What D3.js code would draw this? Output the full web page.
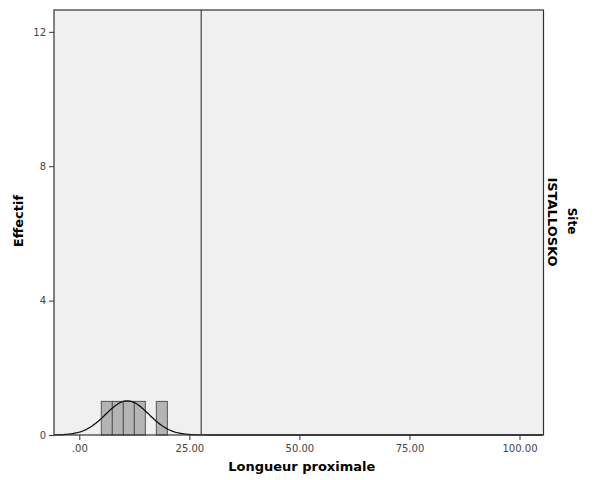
<!DOCTYPE html>
<html><head><meta charset="utf-8">
<script src="https://cdn.jsdelivr.net/npm/d3@7"></script>
<style>body{margin:0;background:#fff}</style>
</head><body>
<svg id="c" width="596" height="480"></svg>
<script>
const binStarts = [5, 7.5, 10, 12.5, 17.5];
const binCounts = [1, 1, 1, 1, 1];
const binWidth = 2.5;
const xTicks = [0, 25, 50, 75, 100];
const yTicks = [0, 4, 8, 12];
const refLine = 27.7;
const fitMean = 10.9, fitSd = 4.9, fitN = 5;
const xTitle = "Longueur proximale", yTitle = "Effectif";
const panelTitle = "Site", panelLabel = "ISTALLOSKO";

const svg = d3.select("#c");
const L = 54, R = 543.5, T = 10, B = 435;
const x = d3.scaleLinear().domain([-5.75, 105.45]).range([L, R]);
const y = d3.scaleLinear().domain([0, 12.65]).range([B, T]);
const font = "'DejaVu Sans', Verdana, sans-serif";

svg.append("rect").attr("x", L).attr("y", T).attr("width", R - L).attr("height", B - T)
  .attr("fill", "#f0f0f0");

const g = svg.append("g");
g.selectAll("rect.bar").data(binStarts).enter().append("rect").attr("class","bar")
  .attr("x", d => x(d)).attr("width", d => x(d + binWidth) - x(d))
  .attr("y", (d,i) => y(binCounts[i])).attr("height", (d,i) => y(0) - y(binCounts[i]))
  .attr("fill", "#b4b4b4").attr("stroke", "#555").attr("stroke-width", 1);

const pts = d3.range(-5.75, 105.45, 0.25).map(v => [v,
  fitN * binWidth * Math.exp(-0.5 * ((v - fitMean) / fitSd) ** 2) / (fitSd * Math.sqrt(2 * Math.PI))]);
g.append("path").datum(pts).attr("fill", "none").attr("stroke", "#111").attr("stroke-width", 1.3)
  .attr("d", d3.line().x(d => x(d[0])).y(d => y(d[1])));

g.append("line").attr("x1", x(refLine)).attr("x2", x(refLine)).attr("y1", T).attr("y2", B)
  .attr("stroke", "#666").attr("stroke-width", 1.5);

svg.append("rect").attr("x", L).attr("y", T).attr("width", R - L).attr("height", B - T)
  .attr("fill", "none").attr("stroke", "#333").attr("stroke-width", 1.2);

const xa = svg.append("g").attr("transform", `translate(0,${B})`)
  .call(d3.axisBottom(x).tickValues(xTicks).tickSize(5).tickFormat(d => d === 0 ? ".00" : d3.format(".2f")(d)));
const ya = svg.append("g").attr("transform", `translate(${L},0)`)
  .call(d3.axisLeft(y).tickValues(yTicks).tickSize(5).tickFormat(d3.format("d")));
[xa, ya].forEach(a => {
  a.select(".domain").remove();
  a.selectAll("line").attr("stroke", "#333");
  a.selectAll("text").attr("fill", "#444").style("font-family", font).style("font-size", "10px");
});
xa.selectAll("text").attr("dy", "0.9em");

svg.append("text").attr("x", (L + R) / 2 + 3).attr("y", 471).attr("text-anchor", "middle")
  .style("font-family", font).style("font-size", "13px").style("font-weight", "bold").text(xTitle);
svg.append("text").attr("transform", "translate(23,221) rotate(-90)").attr("text-anchor", "middle")
  .style("font-family", font).style("font-size", "13px").style("font-weight", "bold").text(yTitle);
svg.append("text").attr("transform", "translate(568,221) rotate(90)").attr("text-anchor", "middle")
  .style("font-family", font).style("font-size", "12px").style("font-weight", "bold").text(panelTitle);
svg.append("text").attr("transform", "translate(548,222) rotate(90)").attr("text-anchor", "middle")
  .style("font-family", font).style("font-size", "13px").style("font-weight", "bold").text(panelLabel);
</script>
</body></html>
